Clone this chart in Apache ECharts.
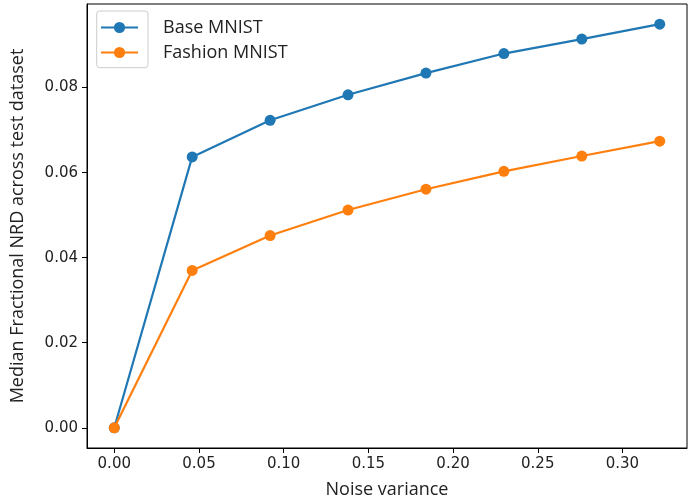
<!DOCTYPE html>
<html>
<head>
<meta charset="utf-8">
<script src="https://cdn.jsdelivr.net/npm/echarts@6/dist/echarts.min.js"></script>
<style>
html,body{margin:0;padding:0;background:#fff;}
#chart{width:691px;height:504px;}
</style>
</head>
<body>
<div id="chart"></div>
<script>
var xValues = [0, 0.046, 0.092, 0.138, 0.184, 0.23, 0.276, 0.322];
var baseMnist = [0, 0.0637, 0.0723, 0.0783, 0.0834, 0.0880, 0.0914, 0.0949];
var fashionMnist = [0, 0.0370, 0.0452, 0.0512, 0.0561, 0.0603, 0.0639, 0.0674];
var xTicks = [0, 0.05, 0.10, 0.15, 0.20, 0.25, 0.30];
var yTicks = [0, 0.02, 0.04, 0.06, 0.08];
var seriesNames = ['Base MNIST', 'Fashion MNIST'];
var xName = 'Noise variance';
var yName = 'Median Fractional NRD across test dataset';

function pairs(xs, ys) { return xs.map(function (x, i) { return [x, ys[i]]; }); }

var chart = echarts.init(document.getElementById('chart'), null, {renderer: 'canvas'});
var labelFont = {fontFamily: 'DejaVu Sans', fontSize: 15, color: '#222'};
chart.setOption({
  animation: false,
  backgroundColor: '#fff',
  grid: {left: 87, right: 4, top: 4, bottom: 54.7, show: true, borderColor: '#000', borderWidth: 1, containLabel: false},
  xAxis: {
    type: 'value', min: -0.0161, max: 0.3381,
    name: xName, nameLocation: 'middle', nameGap: 33,
    nameTextStyle: {fontFamily: 'Open Sans', fontSize: 18, color: '#222'},
    axisLine: {show: true, onZero: false, lineStyle: {color: '#000', width: 1}},
    axisTick: {show: true, length: 5, lineStyle: {color: '#000'}, customValues: xTicks},
    axisLabel: Object.assign({margin: 9, customValues: xTicks, formatter: function (v) { return v.toFixed(2); }}, labelFont),
    splitLine: {show: false}
  },
  yAxis: {
    type: 'value', min: -0.00475, max: 0.09965,
    name: yName, nameLocation: 'middle', nameGap: 60, nameRotate: 90,
    nameTextStyle: {fontFamily: 'Open Sans', fontSize: 18, color: '#222'},
    axisLine: {show: true, onZero: false, lineStyle: {color: '#000', width: 1}},
    axisTick: {show: true, length: 5, lineStyle: {color: '#000'}, customValues: yTicks},
    axisLabel: Object.assign({margin: 9, customValues: yTicks, formatter: function (v) { return v.toFixed(2); }}, labelFont),
    splitLine: {show: false}
  },
  legend: {
    left: 100, top: 18.5, orient: 'vertical', padding: 0,
    itemWidth: 37, itemHeight: 14, itemGap: 7,
    data: seriesNames,
    textStyle: {fontFamily: 'Open Sans', fontSize: 18, color: '#222', lineHeight: 18, padding: [0, 0, 0, 20]}
  },
  graphic: [{
    type: 'rect', z: -1, zlevel: 0,
    shape: {x: 96.7, y: 11, width: 51.3, height: 56.7, r: 3},
    style: {fill: 'rgba(255,255,255,0.8)', stroke: '#cccccc', lineWidth: 1}
  }],
  series: [
    {name: seriesNames[0], type: 'line', data: pairs(xValues, baseMnist), symbol: 'circle', symbolSize: 11,
     itemStyle: {color: '#1f77b4'}, lineStyle: {color: '#1f77b4', width: 2.2}, z: 3},
    {name: seriesNames[1], type: 'line', data: pairs(xValues, fashionMnist), symbol: 'circle', symbolSize: 11,
     itemStyle: {color: '#ff7f0e'}, lineStyle: {color: '#ff7f0e', width: 2.2}, z: 4}
  ]
});
</script>
</body>
</html>
